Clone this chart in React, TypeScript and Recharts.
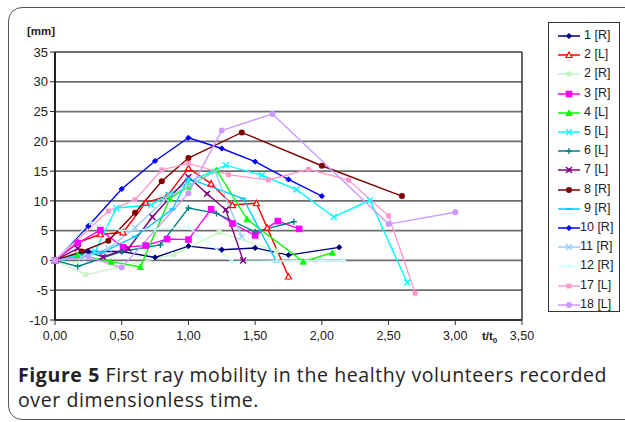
import React from 'react';
import { LineChart, Line, XAxis, YAxis, CartesianGrid, ReferenceLine } from 'recharts';

// [t/t0, mm] pairs per volunteer
const s1R = [[0, 0], [0.25, 1.5], [0.5, 1.5], [0.75, 0.5], [1.0, 2.4], [1.25, 1.8], [1.5, 2.1], [1.75, 0.9], [2.13, 2.2]];
const s2L = [[0, 0], [0.17, 3.0], [0.34, 4.4], [0.51, 4.7], [0.68, 9.7], [0.84, 10.8], [1.0, 15.5], [1.17, 12.9], [1.33, 9.3], [1.51, 9.6], [1.59, 5.5], [1.75, -2.7]];
const s2R = [[0, 0], [0.23, -2.4], [0.5, -1.0], [0.89, 1.0], [1.23, 4.7], [1.66, 1.6]];
const s3R = [[0, 0], [0.17, 2.9], [0.34, 5.1], [0.51, 2.2], [0.68, 2.5], [0.84, 3.6], [1.0, 3.5], [1.17, 8.6], [1.33, 6.2], [1.5, 4.2], [1.67, 6.6], [1.83, 5.3]];
const s4L = [[0, 0], [0.17, 0.9], [0.42, -0.2], [0.64, -1.1], [0.86, 10.4], [1.0, 12.4], [1.21, 15.2], [1.44, 6.9], [1.86, -0.2], [2.08, 1.3]];
const s5L = [[0, 0], [0.3, 1.5], [0.46, 8.8], [0.72, 9.3], [0.85, 11.0], [1.0, 13.2], [1.28, 16.0], [1.55, 14.3], [1.81, 11.9], [2.09, 7.3], [2.36, 10.1], [2.64, -3.7]];
const s6L = [[0, 0], [0.17, -1.0], [0.5, 1.5], [0.79, 2.6], [1.0, 8.8], [1.21, 7.9], [1.5, 4.8], [1.79, 6.5]];
const s7L = [[0, 0], [0.17, 2.0], [0.36, 0.6], [0.55, 2.0], [0.73, 7.3], [1.0, 14.0], [1.14, 11.2], [1.28, 8.5], [1.41, 0.0]];
const s8R = [[0, 0], [0.2, 1.5], [0.4, 3.3], [0.6, 8.0], [0.8, 13.3], [1.0, 17.2], [1.4, 21.5], [2.0, 15.9], [2.6, 10.8]];
const s9R = [[0, 0], [0.35, 1.3], [0.6, 4.0], [0.88, 8.6], [1.0, 13.8], [1.41, 10.4], [1.66, -0.2]];
const s10R = [[0, 0], [0.25, 5.8], [0.5, 12.0], [0.75, 16.7], [1.0, 20.6], [1.25, 18.8], [1.5, 16.6], [1.75, 13.6], [2.0, 10.8]];
const s11R = [[0, 0], [0.2, 0.5], [0.4, 2.0], [0.6, 5.5], [0.83, 10.4], [1.0, 12.5], [1.2, 14.9], [1.4, 4.0]];
const s12R = [[0, 0], [0.26, 6.4], [0.5, 5.0], [0.75, 5.3], [1.0, 5.6], [1.33, -0.2], [1.66, -0.1], [2.0, 0], [2.16, 0]];
const s17L = [[0, 0], [0.4, 8.3], [0.6, 10.2], [0.8, 15.2], [1.0, 16.3], [1.3, 14.4], [1.6, 13.5], [1.9, 15.3], [2.2, 13.5], [2.5, 7.5], [2.7, -5.5]];
const s18L = [[0, 0], [0.25, 0.6], [0.5, -1.2], [1.0, 11.3], [1.25, 21.8], [1.63, 24.6], [2.5, 6.1], [3.0, 8.1]];

const seriesNames = ['1 [R]', '2 [L]', '2 [R]', '3 [R]', '4 [L]', '5 [L]', '6 [L]', '7 [L]', '8 [R]', '9 [R]', '10 [R]', '11 [R]', '12 [R]', '17 [L]', '18 [L]'];
const seriesData = [s1R, s2L, s2R, s3R, s4L, s5L, s6L, s7L, s8R, s9R, s10R, s11R, s12R, s17L, s18L];
const seriesColors = ['#000080', '#FF0000', '#C8F5C8', '#FF00FF', '#00FF00', '#00FFFF', '#008080', '#800080', '#800000', '#00CCFF', '#0000FF', '#99CCFF', '#CCFFFF', '#FF99CC', '#CC99FF'];
const seriesShapes = ['diamond', 'triangleOpen', 'square', 'bigSquare', 'triangle', 'x', 'plus', 'xsq', 'circle', 'dash', 'diamond', 'x', 'plus', 'square', 'circle'];

const xTicks = [0, 0.5, 1, 1.5, 2, 2.5, 3, 3.5];
const yTicks = [-10, -5, 0, 5, 10, 15, 20, 25, 30, 35];

function Marker({ cx, cy, shape, color }: any) {
  if (cx == null || cy == null) return null;
  const s = 2.6;
  switch (shape) {
    case 'diamond':
      return <path d={`M${cx},${cy - s} L${cx + s},${cy} L${cx},${cy + s} L${cx - s},${cy} Z`} fill={color} stroke={color} />;
    case 'triangleOpen':
      return <path d={`M${cx},${cy - 3} L${cx + 3},${cy + 2.5} L${cx - 3},${cy + 2.5} Z`} fill="#fff" stroke={color} strokeWidth={1.2} />;
    case 'triangle':
      return <path d={`M${cx},${cy - 3} L${cx + 3},${cy + 2.5} L${cx - 3},${cy + 2.5} Z`} fill={color} stroke={color} />;
    case 'square':
      return <rect x={cx - 2.5} y={cy - 2.5} width={5} height={5} fill={color} />;
    case 'bigSquare':
      return <rect x={cx - 3.3} y={cy - 3.3} width={6.6} height={6.6} fill={color} />;
    case 'x':
      return <path d={`M${cx - 3},${cy - 3} L${cx + 3},${cy + 3} M${cx - 3},${cy + 3} L${cx + 3},${cy - 3}`} stroke={color} strokeWidth={1.4} />;
    case 'xsq':
      return <g><path d={`M${cx - 3},${cy - 3} L${cx + 3},${cy + 3} M${cx - 3},${cy + 3} L${cx + 3},${cy - 3}`} stroke={color} strokeWidth={1.4} /><rect x={cx - 1.5} y={cy - 1.5} width={3} height={3} fill={color} /></g>;
    case 'plus':
      return <path d={`M${cx - 3},${cy} L${cx + 3},${cy} M${cx},${cy - 3} L${cx},${cy + 3}`} stroke={color} strokeWidth={1.4} />;
    case 'circle':
      return <circle cx={cx} cy={cy} r={3} fill={color} />;
    case 'dash':
      return <rect x={cx - 3} y={cy - 1} width={6} height={2} fill={color} />;
    default:
      return null;
  }
}

const fmt = (v: number) => v.toFixed(2).replace('.', ',');

function LegendBox() {
  return (
    <div style={{ position: 'absolute', left: 548, top: 22, width: 72, height: 290, background: '#fff', border: '1px solid #333', boxSizing: 'border-box' }}>
      {seriesNames.map((n, i) => (
        <div key={n} style={{ position: 'absolute', left: 0, top: 4 + i * 19.2, height: 18, width: 72 }}>
          <svg width={30} height={18} style={{ position: 'absolute', left: 6, top: 0 }}>
            <line x1={3} x2={25} y1={9} y2={9} stroke={seriesColors[i]} strokeWidth={1.5} />
            <Marker cx={14} cy={9} shape={seriesShapes[i]} color={seriesColors[i]} />
          </svg>
          <span style={{ position: 'absolute', left: n.length > 5 ? 31 : 35, top: 1, fontFamily: 'Liberation Sans, Arial, sans-serif', fontSize: 12.5, color: '#222', whiteSpace: 'nowrap' }}>{n}</span>
        </div>
      ))}
    </div>
  );
}

export default function App() {
  return (
    <div style={{ position: 'absolute', left: 0, top: 0, width: 625, height: 422, overflow: 'hidden', background: '#fff' }}>
      <style>{'html,body{overflow:hidden;margin:0}'}</style>
      <div style={{ position: 'absolute', left: 8, top: 7, width: 640, height: 413, border: '1.5px solid #555', borderRadius: 14, boxSizing: 'border-box' }} />
      <div style={{ position: 'absolute', left: 0, top: 0 }}>
        <LineChart width={625} height={350} margin={{ top: 52, right: 103, bottom: 0, left: 0 }}>
          <CartesianGrid vertical={false} stroke="#6e6e6e" strokeWidth={1.8} />
          <XAxis
            dataKey="t"
            type="number"
            domain={[0, 3.5]}
            ticks={xTicks}
            tickFormatter={fmt}
            allowDuplicatedCategory={false}
            height={30}
            axisLine={{ stroke: '#333', strokeWidth: 1.8 }}
            tickLine={{ stroke: '#333' }}
            tickSize={5}
            tick={{ fontFamily: 'Liberation Sans, Arial, sans-serif', fontSize: 12.5, fill: '#222', dy: 4 }}
          />
          <YAxis
            type="number"
            domain={[-10, 35]}
            ticks={yTicks}
            width={55}
            interval={0}
            axisLine={{ stroke: '#222', strokeWidth: 2 }}
            tickLine={{ stroke: '#222' }}
            tickSize={5}
            tick={{ fontFamily: 'Liberation Sans, Arial, sans-serif', fontSize: 13, fill: '#222' }}
          />
          <ReferenceLine x={3.5} stroke="#333" strokeWidth={1.5} />
          {seriesData.map((d, i) => (
            <Line
              key={seriesNames[i]}
              name={seriesNames[i]}
              data={d.map(([t, v]) => ({ t, v }))}
              dataKey="v"
              type="linear"
              stroke={seriesColors[i]}
              strokeWidth={1.4}
              isAnimationActive={false}
              dot={(p: any) => <Marker key={`${i}-${p.index}`} cx={p.cx} cy={p.cy} shape={seriesShapes[i]} color={seriesColors[i]} />}
              activeDot={false}
            />
          ))}
        </LineChart>
      </div>
      <LegendBox />
      <div style={{ position: 'absolute', left: 27, top: 25, fontFamily: 'Liberation Sans, Arial, sans-serif', fontSize: 11.5, fontWeight: 'bold', color: '#222' }}>[mm]</div>
      <div style={{ position: 'absolute', left: 482, top: 330, fontFamily: 'Liberation Sans, Arial, sans-serif', fontSize: 11.5, fontWeight: 'bold', color: '#222' }}>t/t<sub style={{ fontSize: 8 }}>0</sub></div>
      <div style={{ position: 'absolute', left: 18, top: 362, width: 600, fontFamily: 'Open Sans, sans-serif', fontSize: 19.5, letterSpacing: 0.6, lineHeight: '25px', color: '#222' }}>
        <b>Figure 5</b> First ray mobility in the healthy volunteers recorded over dimensionless time.
      </div>
    </div>
  );
}
